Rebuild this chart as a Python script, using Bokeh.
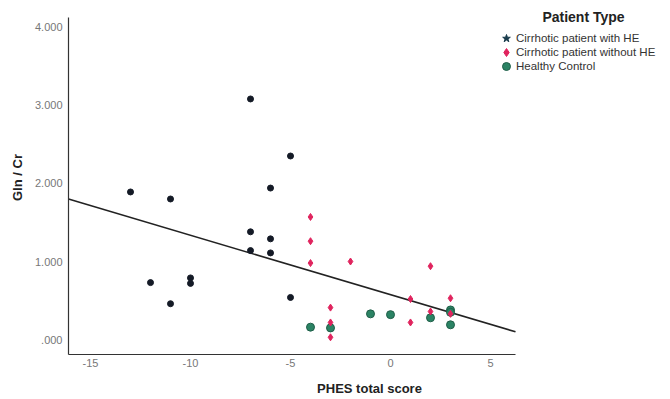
from bokeh.plotting import figure
from bokeh.models import Range1d, Legend, LegendItem, Label, FixedTicker
from bokeh.embed import file_html
from bokeh.resources import INLINE

# ---- data ----
he_x = [-13, -11, -12, -11, -10, -10, -7, -7, -7, -6, -6, -6, -5, -5]
he_y = [1.89, 1.80, 0.73, 0.46, 0.79, 0.72, 3.08, 1.38, 1.14, 1.94, 1.29, 1.11, 2.35, 0.54]

nohe_x = [-4, -4, -4, -2, 2, -3, -3, -3, 1, 1, 2, 3, 3]
nohe_y = [1.57, 1.26, 0.98, 1.00, 0.94, 0.41, 0.22, 0.03, 0.52, 0.22, 0.36, 0.53, 0.33]

hc_x = [-4, -3, -1, 0, 2, 3, 3, 3]
hc_y = [0.16, 0.15, 0.33, 0.32, 0.28, 0.38, 0.35, 0.19]

fit_x = [-16.1, 6.25]
fit_y = [1.80, 0.10]

x_ticks = [-15, -10, -5, 0, 5]
x_tick_labels = ["-15", "-10", "-5", "0", "5"]
y_ticks = [0, 1, 2, 3, 4]
y_tick_labels = [".000", "1.000", "2.000", "3.000", "4.000"]

legend_labels = ["Cirrhotic patient with HE", "Cirrhotic patient without HE", "Healthy Control"]
legend_title = "Patient Type"

FONT = "Liberation Sans"
NAN = float("nan")

p = figure(width=670, height=398, output_backend="svg", toolbar_location=None,
           x_range=Range1d(-16.1, 14.0), y_range=Range1d(-0.19, 4.34),
           min_border_left=68, min_border_right=0, min_border_top=0, min_border_bottom=43)
p.outline_line_color = None
p.xgrid.visible = False
p.ygrid.visible = False
p.background_fill_color = "white"
p.border_fill_color = "white"

for ax in (p.xaxis[0], p.yaxis[0]):
    ax.axis_line_color = "#333333"
    ax.axis_line_width = 1.2
    ax.major_tick_line_color = None
    ax.minor_tick_line_color = None
    ax.major_tick_out = 0
    ax.major_tick_in = 0
    ax.minor_tick_out = 0
    ax.minor_tick_in = 0
    ax.major_label_text_font = FONT
    ax.major_label_text_font_size = "11px"
    ax.major_label_text_color = "#777777"
    ax.axis_label_text_font = FONT
    ax.axis_label_text_font_style = "bold"
    ax.axis_label_text_font_size = "13px"
    ax.axis_label_text_color = "#222222"

p.xaxis.bounds = (fit_x[0], fit_x[1])
p.yaxis.bounds = (-0.19, 4.12)
p.xaxis.ticker = FixedTicker(ticks=x_ticks)
p.yaxis.ticker = FixedTicker(ticks=y_ticks)
p.xaxis.major_label_overrides = {t: l for t, l in zip(x_ticks, x_tick_labels)}
p.yaxis.major_label_overrides = {t: l for t, l in zip(y_ticks, y_tick_labels)}
p.xaxis.axis_label = "PHES total score"
p.yaxis.axis_label = "Gln / Cr"
p.xaxis.major_label_standoff = 4
p.yaxis.major_label_standoff = 6
p.xaxis.axis_label_standoff = 11
p.yaxis.axis_label_standoff = 7

p.line(fit_x, fit_y, line_color="#222222", line_width=1.6)

p.scatter(hc_x, hc_y, marker="circle", size=8, fill_color="#2b8364", line_color="#1f5e48")
p.scatter(nohe_x, nohe_y, marker="diamond", size=7, fill_color="#e0245e", line_color="#e0245e")
p.scatter(he_x, he_y, marker="circle", size=6, fill_color="#141a26", line_color="#141a26")

# legend-only renderers (no visible data)
r1 = p.scatter(x=[NAN], y=[NAN], marker="star", size=11, fill_color="#1a3d4d", line_color="#1a3d4d")
r2 = p.scatter(x=[NAN], y=[NAN], marker="diamond", size=10, fill_color="#e0245e", line_color="#e0245e")
r3 = p.scatter(x=[NAN], y=[NAN], marker="circle", size=10, fill_color="#2b8364", line_color="#1f5e48")

# one legend per entry so the rows can be packed tightly with large markers
for lab, rend, ypos in zip(legend_labels, [r1, r2, r3], [306, 292, 278]):
    lg = Legend(items=[LegendItem(label=lab, renderers=[rend])],
                location=(428, ypos), border_line_color=None, background_fill_alpha=0,
                label_text_font=FONT, label_text_font_size="11.5px", label_text_color="#333333",
                glyph_width=20, glyph_height=20, label_standoff=-1, spacing=0, padding=0,
                label_height=14, margin=0)
    p.add_layout(lg, "center")

title = Label(x=515, y=338, x_units="screen", y_units="screen", text=legend_title,
              text_font=FONT, text_font_style="bold", text_font_size="14px",
              text_color="#222222", text_align="center", text_baseline="middle")
p.add_layout(title)

open("out.html", "w").write(file_html(p, INLINE))
